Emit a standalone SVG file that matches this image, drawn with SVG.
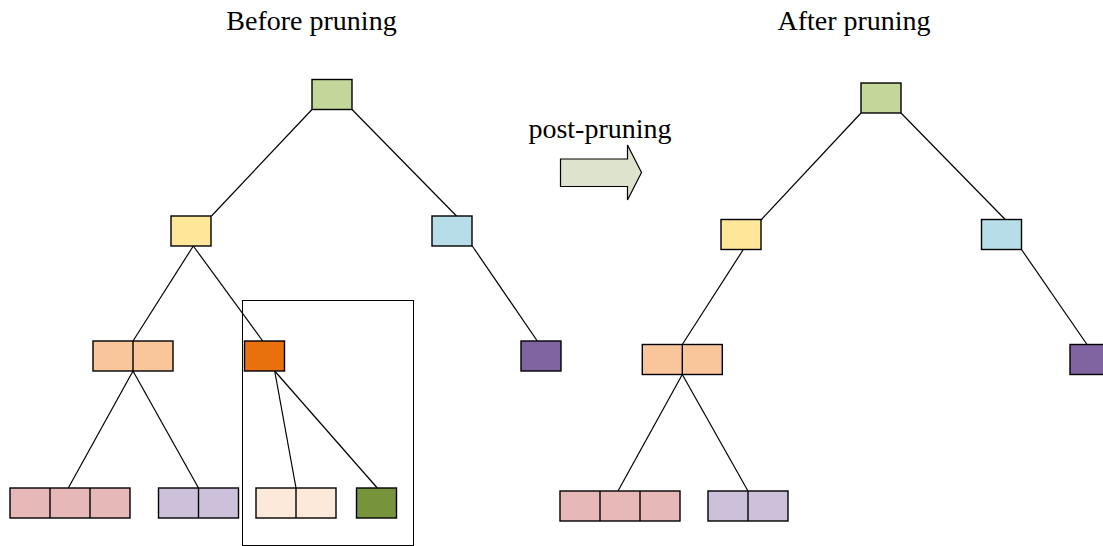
<svg xmlns="http://www.w3.org/2000/svg" width="1103" height="546" viewBox="0 0 1103 546">
  <style>
    .title { font-family: "Liberation Serif", "Times New Roman", serif; font-size: 28px; fill: #000; text-anchor: middle; }
    .box { stroke: #000; stroke-width: 1.4; }
    .div { stroke: #000; stroke-width: 1.4; fill: none; }
    .edge { stroke: #000; stroke-width: 1.2; fill: none; }
    .frame { stroke: #000; stroke-width: 1; fill: none; }
    .c-root { fill: #c4d79b; }
    .c-yel { fill: #ffe699; }
    .c-blue { fill: #b7dee8; }
    .c-org { fill: #f9c69b; }
    .c-dorg { fill: #e8710e; }
    .c-pur { fill: #8064a2; }
    .c-pink { fill: #e6b9b8; }
    .c-lav { fill: #ccc0da; }
    .c-peach { fill: #fde9d9; }
    .c-dgrn { fill: #77933c; }
  </style>
  <rect width="1103" height="546" fill="#ffffff"/>

  <!-- headings -->
  <text class="title" x="311.5" y="29.5">Before pruning</text>
  <text class="title" x="854" y="29.5">After pruning</text>
  <text class="title" x="600" y="137.5">post-pruning</text>

  <!-- transition arrow -->
  <polygon id="arrow" points="560.5,159 627.5,159 627.5,145 641.5,172.5 627.5,200 627.5,186.5 560.5,186.5" fill="#dde3cc" stroke="#000" stroke-width="1.2" stroke-linejoin="miter"/>

  <!-- connectors -->
  <g id="connectors" class="edge">
    <!-- full tree -->
    <line x1="312" y1="109.5" x2="211.5" y2="216"/>
    <line x1="352" y1="109.5" x2="456.5" y2="216"/>
    <line x1="193.3" y1="246" x2="133" y2="341"/>
    <line x1="193.3" y1="246" x2="262.7" y2="341"/>
    <line x1="472.3" y1="246" x2="537.3" y2="341"/>
    <line x1="133" y1="371" x2="68.3" y2="488"/>
    <line x1="133" y1="371" x2="198.5" y2="488"/>
    <line x1="274.7" y1="371" x2="296" y2="488"/>
    <line x1="274.7" y1="371" x2="377.3" y2="488"/>
    <!-- pruned tree -->
    <line x1="861" y1="113" x2="761" y2="220"/>
    <line x1="901" y1="113" x2="1005.7" y2="220"/>
    <line x1="743.3" y1="249.5" x2="682.3" y2="344.5"/>
    <line x1="682.3" y1="374.5" x2="618" y2="491"/>
    <line x1="682.3" y1="374.5" x2="748" y2="491"/>
    <line x1="1021.5" y1="249.5" x2="1087" y2="344.5"/>
  </g>

  <!-- subtree selected for pruning -->
  <rect id="prune-frame" class="frame" x="242.5" y="300.5" width="171" height="245"/>

  <!-- full tree nodes -->
  <g id="L-root"><rect class="box c-root" x="312" y="79.5" width="40" height="30"/></g>
  <g id="L-yellow"><rect class="box c-yel" x="171" y="216" width="40" height="30"/></g>
  <g id="L-blue"><rect class="box c-blue" x="432" y="216" width="40" height="30"/></g>
  <g id="L-orange">
    <rect class="box c-org" x="93" y="341" width="80" height="30"/>
    <line class="div" x1="133" y1="341" x2="133" y2="371"/>
  </g>
  <g id="L-darkorange"><rect class="box c-dorg" x="244.5" y="341" width="40" height="30"/></g>
  <g id="L-purple"><rect class="box c-pur" x="521" y="341" width="40" height="30"/></g>
  <g id="L-pink">
    <rect class="box c-pink" x="10" y="488" width="120" height="30"/>
    <line class="div" x1="50" y1="488" x2="50" y2="518"/>
    <line class="div" x1="90" y1="488" x2="90" y2="518"/>
  </g>
  <g id="L-lavender">
    <rect class="box c-lav" x="158.5" y="488" width="80" height="30"/>
    <line class="div" x1="198.5" y1="488" x2="198.5" y2="518"/>
  </g>
  <g id="L-peach">
    <rect class="box c-peach" x="256" y="488" width="80" height="30"/>
    <line class="div" x1="296" y1="488" x2="296" y2="518"/>
  </g>
  <g id="L-darkgreen"><rect class="box c-dgrn" x="356.5" y="488" width="40" height="30"/></g>

  <!-- pruned tree nodes -->
  <g id="R-root"><rect class="box c-root" x="861" y="83" width="40" height="30"/></g>
  <g id="R-yellow"><rect class="box c-yel" x="721" y="219.5" width="40" height="30"/></g>
  <g id="R-blue"><rect class="box c-blue" x="981.5" y="219.5" width="40" height="30"/></g>
  <g id="R-orange">
    <rect class="box c-org" x="642.3" y="344.5" width="80" height="30"/>
    <line class="div" x1="682.3" y1="344.5" x2="682.3" y2="374.5"/>
  </g>
  <g id="R-purple"><rect class="box c-pur" x="1070" y="344.5" width="40" height="30"/></g>
  <g id="R-pink">
    <rect class="box c-pink" x="560" y="491" width="120" height="30"/>
    <line class="div" x1="600" y1="491" x2="600" y2="521"/>
    <line class="div" x1="640" y1="491" x2="640" y2="521"/>
  </g>
  <g id="R-lavender">
    <rect class="box c-lav" x="708" y="491" width="80" height="30"/>
    <line class="div" x1="748" y1="491" x2="748" y2="521"/>
  </g>
</svg>
